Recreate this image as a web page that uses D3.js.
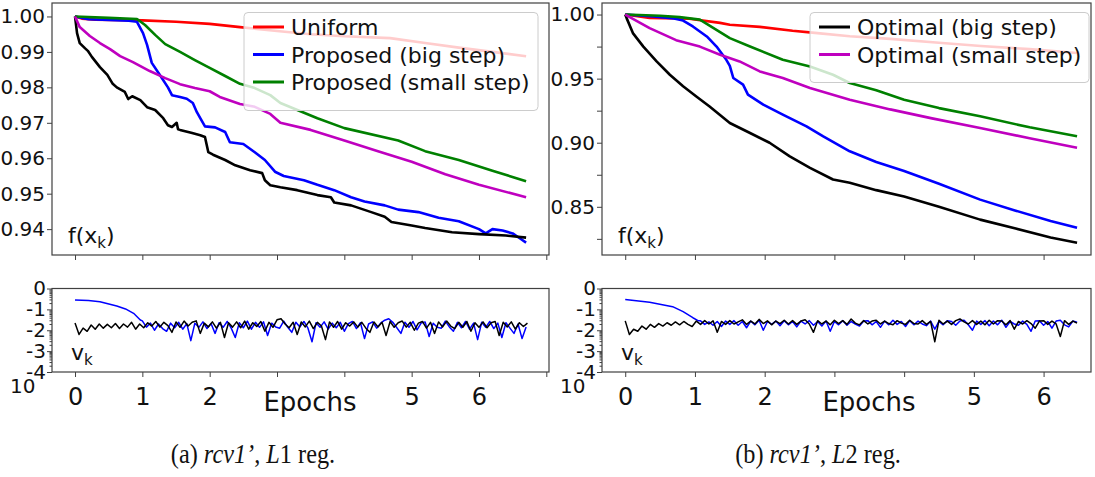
<!DOCTYPE html>
<html>
<head>
<meta charset="utf-8">
<script src="https://cdn.jsdelivr.net/npm/d3@7"></script>
<style>
  body { margin: 0; background: #fff; }
  svg { display: block; }
  text { font-family: "DejaVu Sans", sans-serif; fill: #111; }
</style>
</head>
<body>
<svg id="chart" width="1095" height="477"></svg>
<script>
// ---- f(x_k) curves, [epoch, value] ----
const uniformL1 = [[0,1.0],[0.1,0.9994],[0.3,0.9991],[1,0.9989],[1.5,0.9985],[2,0.9979],[2.45,0.9970],[3,0.9959],[3.5,0.9950],[4,0.9944],[4.68,0.9939],[5.2,0.9925],[5.7,0.9912],[6.2,0.9900],[6.7,0.9888]];
const bigStepL1 = [[0,1.0],[0.2,0.9992],[0.5,0.9990],[0.8,0.9988],[0.92,0.9985],[1.01,0.9953],[1.07,0.992],[1.14,0.9869],[1.26,0.9835],[1.38,0.980],[1.44,0.9778],[1.56,0.9773],[1.66,0.9768],[1.75,0.9756],[1.81,0.973],[1.86,0.9713],[1.93,0.969],[2.08,0.9687],[2.23,0.9674],[2.30,0.9645],[2.5,0.964],[2.67,0.9617],[2.82,0.9595],[2.97,0.9562],[3.1,0.9550],[3.4,0.9538],[3.6,0.9525],[3.85,0.951],[4.1,0.9490],[4.3,0.9478],[4.6,0.9467],[4.8,0.9455],[5.1,0.9448],[5.4,0.9432],[5.7,0.9422],[6.0,0.9400],[6.1,0.9388],[6.2,0.9400],[6.35,0.9396],[6.5,0.9388],[6.6,0.9375],[6.7,0.9362]];
const smallStepL1 = [[0,1.0],[0.5,0.9996],[0.92,0.9993],[1.04,0.9976],[1.19,0.9948],[1.34,0.9922],[1.56,0.99],[1.78,0.9877],[2.0,0.9855],[2.23,0.9832],[2.45,0.981],[2.67,0.9798],[2.9,0.9778],[3.05,0.9756],[3.6,0.9713],[4.0,0.9685],[4.8,0.9650],[5.2,0.9620],[5.7,0.9595],[6.2,0.9565],[6.7,0.9535]];
const optBigL1 = [[0,1.0],[0.03,0.9953],[0.07,0.9925],[0.15,0.991],[0.19,0.9903],[0.25,0.9886],[0.37,0.9857],[0.48,0.9835],[0.56,0.981],[0.62,0.980],[0.74,0.9787],[0.79,0.9767],[0.85,0.9775],[0.97,0.9764],[1.07,0.9744],[1.19,0.9736],[1.31,0.9713],[1.38,0.9693],[1.44,0.9688],[1.51,0.9700],[1.53,0.9682],[1.56,0.968],[1.74,0.9671],[1.86,0.9665],[1.93,0.966],[1.98,0.9617],[2.05,0.961],[2.23,0.9595],[2.38,0.958],[2.6,0.9566],[2.78,0.9558],[2.82,0.9538],[2.9,0.9524],[3.05,0.9518],[3.3,0.951],[3.6,0.9496],[3.8,0.9490],[3.85,0.9475],[4.1,0.9467],[4.4,0.9448],[4.6,0.9435],[4.7,0.9420],[5.0,0.9410],[5.2,0.9403],[5.6,0.9391],[6.0,0.9386],[6.4,0.9382],[6.7,0.9376]];
const optSmallL1 = [[0,1.0],[0.07,0.997],[0.22,0.9945],[0.37,0.9925],[0.52,0.9908],[0.67,0.9888],[0.86,0.9871],[1.11,0.9846],[1.34,0.9826],[1.56,0.9809],[1.78,0.9798],[2.0,0.9789],[2.15,0.9773],[2.45,0.9753],[2.67,0.9745],[2.9,0.9725],[3.05,0.970],[3.5,0.9680],[4.0,0.9650],[4.5,0.9620],[5.0,0.9590],[5.5,0.9555],[6.0,0.9525],[6.7,0.9490]];

const uniformL2 = [[0,1.0],[0.35,0.9974],[0.92,0.9967],[1.36,0.9935],[1.5,0.992],[1.93,0.9904],[2.4,0.9873],[2.72,0.9857],[3.22,0.983],[3.8,0.981],[4.5,0.978],[5.1,0.9755],[5.8,0.973],[6.48,0.970]];
const bigStepL2 = [[0,1.0],[0.4,0.9985],[0.7,0.997],[0.83,0.9953],[0.97,0.9907],[1.17,0.9829],[1.31,0.975],[1.45,0.9647],[1.5,0.9600],[1.55,0.9505],[1.69,0.9453],[1.76,0.9375],[1.98,0.9297],[2.26,0.9219],[2.6,0.9128],[2.84,0.905],[3.22,0.8933],[3.6,0.8850],[4.0,0.8780],[4.5,0.8680],[5.09,0.8556],[5.6,0.8470],[6.1,0.8390],[6.48,0.8336]];
const smallStepL2 = [[0,1.0],[0.5,0.999],[0.78,0.998],[1.07,0.996],[1.5,0.9816],[1.79,0.9751],[2.26,0.9647],[2.65,0.9595],[2.98,0.953],[3.22,0.9466],[3.6,0.941],[4.0,0.9336],[4.5,0.927],[5.09,0.9206],[5.8,0.912],[6.48,0.905]];
const optBigL2 = [[0,1.0],[0.02,0.9972],[0.11,0.9855],[0.26,0.975],[0.45,0.9634],[0.64,0.953],[0.83,0.944],[1.02,0.9361],[1.21,0.9283],[1.5,0.9154],[1.79,0.9076],[2.07,0.90],[2.36,0.8894],[2.65,0.8804],[2.98,0.8713],[3.22,0.8687],[3.6,0.8630],[4.0,0.8580],[4.5,0.8500],[5.09,0.840],[5.6,0.8330],[6.1,0.8260],[6.48,0.822]];
const optSmallL2 = [[0,1.0],[0.35,0.9894],[0.73,0.980],[1.07,0.975],[1.36,0.9686],[1.64,0.9634],[1.93,0.9556],[2.26,0.9505],[2.65,0.9427],[3.22,0.9336],[3.8,0.926],[4.4,0.919],[5.09,0.9115],[5.8,0.9035],[6.48,0.896]];

// ---- v_k, log10 values ----
// smooth start of the big-step curves, [epoch, log10 v]
const vBigStartL1 = [[0,-0.55],[0.2,-0.58],[0.37,-0.63],[0.62,-0.84],[0.75,-0.98],[0.87,-1.19],[0.97,-1.51]];
const vBigStartL2 = [[0,-0.53],[0.35,-0.66],[0.68,-0.87],[0.83,-1.11],[0.97,-1.40],[1.05,-1.55]];
// sampled every 0.06 epoch
const vStep = 0.06;
const vBigNoiseStartL1 = 1.0;
const vBigNoiseL1 = [
  -1.55,-1.85,-1.66,-2.00,-1.70,-1.92,-2.05,-1.66,-1.88,-1.62,
  -1.95,-1.68,-2.50,-1.66,-1.86,-1.60,-1.92,-1.68,-2.15,-1.64,
  -1.86,-1.58,-1.90,-2.35,-1.64,-1.88,-1.56,-1.95,-1.62,-1.86,
  -1.60,-2.25,-1.66,-1.84,-1.90,-1.56,-1.86,-2.10,-1.62,-1.84,
  -1.58,-1.90,-2.55,-1.64,-1.86,-1.60,-1.95,-1.66,-1.88,-1.62,
  -2.05,-1.68,-1.58,-1.92,-1.64,-2.40,-1.70,-1.60,-1.90,-1.66,
  -1.52,-1.45,-1.62,-1.88,-2.15,-1.62,-1.86,-1.58,-1.98,-1.66,
  -1.60,-2.30,-1.66,-1.86,-1.90,-1.56,-1.84,-2.05,-1.62,-1.88,
  -1.58,-1.95,-1.66,-2.45,-1.62,-1.86,-1.58,-1.92,-1.66,-2.35,
  -1.64,-1.90,-2.15,-1.70,-2.40,-1.85];
const vOptL1 = [
  -1.65,-2.20,-1.90,-2.05,-1.75,-1.95,-1.70,-1.90,-1.72,-1.88,
  -1.68,-1.92,-1.70,-1.85,-1.62,-1.95,-1.70,-1.88,-1.64,-1.80,
  -1.58,-1.85,-1.62,-1.78,-2.10,-1.60,-1.86,-1.56,-1.80,-1.62,
  -1.55,-2.15,-1.66,-1.84,-1.60,-1.90,-1.62,-2.35,-1.64,-1.85,
  -1.60,-1.88,-1.56,-1.95,-1.64,-1.82,-1.58,-2.05,-1.62,-1.86,
  -1.50,-1.45,-1.70,-1.88,-1.62,-2.20,-1.60,-1.84,-1.56,-1.92,
  -1.62,-1.80,-2.45,-1.60,-1.86,-1.58,-1.95,-1.64,-1.80,-1.60,
  -1.85,-1.62,-1.90,-2.10,-1.60,-1.84,-1.62,-2.25,-1.58,-1.86,
  -1.64,-1.56,-1.85,-1.62,-2.00,-1.66,-1.58,-1.90,-1.62,-2.15,
  -1.60,-1.84,-1.56,-1.80,-1.92,-1.62,-1.86,-1.58,-2.05,-1.64,
  -1.86,-1.60,-1.88,-1.64,-1.58,-2.25,-1.62,-1.84,-1.60,-1.95,
  -1.64,-1.82,-1.66];
const vBigNoiseStartL2 = 1.08;
const vBigNoiseL2 = [
  -1.55,-1.72,-1.60,-1.76,-1.58,-1.82,-1.56,-1.72,-1.54,-1.76,
  -1.58,-1.88,-1.56,-1.74,-1.52,-2.00,-1.58,-1.72,-1.56,-1.78,
  -1.54,-1.74,-1.58,-1.84,-1.56,-1.70,-1.54,-1.76,-1.58,-1.80,
  -1.56,-2.05,-1.58,-1.74,-1.54,-1.76,-1.58,-1.70,-1.80,-1.56,
  -1.54,-1.74,-1.58,-1.86,-1.56,-1.74,-1.52,-1.72,-1.58,-1.82,
  -1.54,-1.74,-1.56,-1.70,-1.78,-1.56,-1.95,-1.58,-1.74,-1.54,
  -1.58,-1.76,-1.56,-1.52,-1.74,-2.00,-1.56,-1.72,-1.54,-1.78,
  -1.56,-1.74,-1.52,-1.86,-1.58,-1.70,-1.76,-1.56,-1.72,-2.05,
  -1.56,-1.54,-1.76,-1.58,-1.90,-1.56,-1.52,-1.74,-1.84,-1.56,
  -1.62];
const vOptL2 = [
  -1.55,-2.20,-1.95,-2.05,-1.80,-1.95,-1.72,-1.86,-1.68,-1.80,
  -1.64,-1.76,-1.60,-1.74,-1.58,-1.72,-1.82,-1.56,-1.72,-1.54,
  -1.70,-1.55,-2.10,-1.58,-1.72,-1.54,-1.70,-1.60,-1.50,-1.72,
  -1.56,-1.70,-1.48,-1.68,-1.55,-1.74,-1.56,-1.68,-1.52,-1.70,
  -1.54,-1.72,-1.56,-1.50,-1.70,-2.10,-1.54,-1.70,-1.56,-1.74,
  -1.52,-1.68,-1.54,-1.72,-1.46,-1.66,-1.74,-1.54,-1.70,-1.56,
  -1.52,-1.70,-1.56,-1.68,-1.74,-1.54,-1.66,-1.72,-1.52,-1.68,
  -1.70,-1.54,-1.72,-1.58,-2.55,-1.52,-1.70,-1.56,-1.72,-1.54,
  -1.46,-1.60,-1.70,-1.54,-1.72,-1.56,-1.74,-1.52,-1.70,-1.54,
  -1.56,-1.74,-1.54,-1.95,-1.58,-1.70,-1.54,-1.68,-1.90,-1.56,
  -1.54,-1.72,-1.56,-1.70,-2.30,-1.54,-1.72,-1.56,-1.66];

// ---- ticks and labels ----
const xTicksL1 = [0,1,2,3,4,5,6,7];
const xTicksL2 = [0,1,2,3,4,5,6];
const xLabelled = [0,1,2,5,6];
const fTicksL1 = [0.94,0.95,0.96,0.97,0.98,0.99,1.00];
const fTicksL2 = [0.825,0.85,0.875,0.90,0.925,0.95,0.975,1.00];
const vTicks = [1,1e-1,1e-2,1e-3,1e-4];
const legendL1 = ["Uniform","Proposed (big step)","Proposed (small step)"];
const legendL2 = ["Optimal (big step)","Optimal (small step)"];

const svg = d3.select('#chart');
const RED = '#ff0000', BLUE = '#0000ff', GREEN = '#008000', MAG = '#bf00bf', BLACK = '#000000';
const FRAME = '#404040';

function noisy(start, vals) {
  return vals.map((v, i) => [start + i * vStep, v]);
}

function drawPanel(o) {
  const g = svg.append('g');
  const top = 3, bot = 255, vTop = 288.5, vBot = 372;
  const x = d3.scaleLinear().domain(o.xDomain).range([o.left, o.right]);
  const y = d3.scaleLinear().domain(o.fDomain).range([bot, top]);
  const yv = d3.scaleLog().domain([1e-4, 1]).range([vBot, vTop]);

  const defs = svg.append('defs');
  defs.append('clipPath').attr('id', o.id + 'top').append('rect')
    .attr('x', o.left).attr('y', top).attr('width', o.right - o.left).attr('height', bot - top);
  defs.append('clipPath').attr('id', o.id + 'bot').append('rect')
    .attr('x', o.left).attr('y', vTop).attr('width', o.right - o.left).attr('height', vBot - vTop);

  // f(x_k) lines
  const line = d3.line().x(d => x(d[0])).y(d => y(d[1]));
  const lg = g.append('g').attr('clip-path', `url(#${o.id}top)`);
  o.series.forEach(s => {
    lg.append('path').attr('d', line(s.data)).attr('fill', 'none')
      .attr('stroke', s.color).attr('stroke-width', 2.6).attr('stroke-linejoin', 'round');
  });

  // v_k lines
  const vline = d3.line().x(d => x(d[0])).y(d => yv(Math.pow(10, d[1])));
  const vg = g.append('g').attr('clip-path', `url(#${o.id}bot)`);
  vg.append('path').attr('d', vline(o.vBig)).attr('fill', 'none')
    .attr('stroke', BLUE).attr('stroke-width', 1.5).attr('stroke-linejoin', 'round');
  vg.append('path').attr('d', vline(o.vOpt)).attr('fill', 'none')
    .attr('stroke', BLACK).attr('stroke-width', 1.5).attr('stroke-linejoin', 'round');

  // axes
  const ax = g.append('g').attr('transform', `translate(0,${bot})`)
    .call(d3.axisBottom(x).tickValues(o.xTicks).tickSize(5).tickFormat(''));
  const ay = g.append('g').attr('transform', `translate(${o.left},0)`)
    .call(d3.axisLeft(y).tickValues(o.fTicks).tickSize(5).tickPadding(2)
      .tickFormat(d => o.fLabelled(d) ? d3.format('.2f')(d) : ''));
  const axb = g.append('g').attr('transform', `translate(0,${vBot})`)
    .call(d3.axisBottom(x).tickValues(o.xTicks).tickSize(5).tickPadding(11)
      .tickFormat(d => xLabelled.includes(d) ? d : ''));
  const minor = [];
  [-4, -3, -2, -1].forEach(k => { for (let m = 2; m <= 9; m++) minor.push(m * Math.pow(10, k)); });
  const ayvMinor = g.append('g').attr('transform', `translate(${o.left},0)`)
    .call(d3.axisLeft(yv).tickValues(minor).tickSize(2.5).tickFormat(''));
  const ayv = g.append('g').attr('transform', `translate(${o.left},0)`)
    .call(d3.axisLeft(yv).tickValues(vTicks).tickSize(5).tickPadding(1)
      .tickFormat(d => String(Math.round(Math.log10(d)))));
  [ax, ay, axb, ayv, ayvMinor].forEach(a => {
    a.select('.domain').remove();
    a.selectAll('.tick line').attr('stroke', FRAME).attr('stroke-width', 1);
    a.selectAll('text').attr('fill', '#111').style('font-family', '"DejaVu Sans", sans-serif');
  });
  ay.selectAll('text').style('font-size', '20px');
  ayv.selectAll('text').style('font-size', '20px');
  axb.selectAll('text').style('font-size', '24px');

  // frames
  g.append('rect').attr('x', o.left).attr('y', top).attr('width', o.right - o.left).attr('height', bot - top)
    .attr('fill', 'none').attr('stroke', FRAME).attr('stroke-width', 1.2);
  g.append('rect').attr('x', o.left).attr('y', vTop).attr('width', o.right - o.left).attr('height', vBot - vTop)
    .attr('fill', 'none').attr('stroke', FRAME).attr('stroke-width', 1.2);

  // in-axes labels
  const fl = g.append('text').attr('x', o.left + 16).attr('y', 243).style('font-size', '22px');
  fl.append('tspan').text('f(x');
  fl.append('tspan').attr('dy', 5).style('font-size', '15px').text('k');
  fl.append('tspan').attr('dy', -5).text(')');
  const vl = g.append('text').attr('x', o.left + 19).attr('y', 360).style('font-size', '22px');
  vl.append('tspan').text('v');
  vl.append('tspan').attr('dy', 5).style('font-size', '15px').text('k');
  g.append('text').attr('x', o.left - 42).attr('y', 393).style('font-size', '20px').text('10');
  g.append('text').attr('x', o.epochsX).attr('y', 411).attr('text-anchor', 'middle')
    .style('font-size', '26px').text('Epochs');

  // legend
  const leg = g.append('g');
  leg.append('rect').attr('x', o.legX).attr('y', 12.5).attr('width', o.legW)
    .attr('height', 14 + o.legend.length * 28).attr('rx', 4)
    .attr('fill', 'rgba(255,255,255,0.8)').attr('stroke', '#cccccc').attr('stroke-width', 1);
  o.legend.forEach((t, i) => {
    const yy = 27 + i * 27.5;
    leg.append('line').attr('x1', o.legX + 9).attr('x2', o.legX + 40).attr('y1', yy).attr('y2', yy)
      .attr('stroke', o.legColors[i]).attr('stroke-width', 3);
    leg.append('text').attr('x', o.legX + 47).attr('y', yy + 8).style('font-size', '22px').text(t);
  });

  // caption (slightly condensed, like the LaTeX subcaption)
  const cap = svg.append('text').attr('x', 0).attr('y', 0).attr('text-anchor', 'middle')
    .attr('transform', `translate(${o.capX},463) scale(0.9,1)`)
    .style('font-family', '"Liberation Serif", serif').style('font-size', '27px');
  cap.append('tspan').text(o.capTag + ' ');
  cap.append('tspan').style('font-style', 'italic').text('rcv1\u2019');
  cap.append('tspan').text(', ');
  cap.append('tspan').style('font-style', 'italic').text('L');
  cap.append('tspan').text(o.capReg + ' reg.');
}

drawPanel({
  id: 'l1', left: 52, right: 549, xDomain: [-0.342, 7.04], fDomain: [0.9327, 1.0038],
  xTicks: xTicksL1, fTicks: fTicksL1, fLabelled: () => true,
  series: [
    { data: uniformL1, color: RED }, { data: bigStepL1, color: BLUE }, { data: smallStepL1, color: GREEN },
    { data: optBigL1, color: BLACK }, { data: optSmallL1, color: MAG }
  ],
  vBig: vBigStartL1.concat(noisy(vBigNoiseStartL1, vBigNoiseL1)),
  vOpt: noisy(0, vOptL1),
  legend: legendL1, legColors: [RED, BLUE, GREEN], legX: 244, legW: 294,
  epochsX: 310, capX: 253, capTag: '(a)', capReg: '1'
});
drawPanel({
  id: 'l2', left: 602, right: 1091, xDomain: [-0.333, 6.68], fDomain: [0.8124, 1.009],
  xTicks: xTicksL2, fTicks: fTicksL2, fLabelled: d => Math.round(d * 1000) % 50 === 0,
  series: [
    { data: uniformL2, color: RED }, { data: bigStepL2, color: BLUE }, { data: smallStepL2, color: GREEN },
    { data: optBigL2, color: BLACK }, { data: optSmallL2, color: MAG }
  ],
  vBig: vBigStartL2.concat(noisy(vBigNoiseStartL2, vBigNoiseL2)),
  vOpt: noisy(0, vOptL2),
  legend: legendL2, legColors: [BLACK, MAG], legX: 810, legW: 279,
  epochsX: 869, capX: 818, capTag: '(b)', capReg: '2'
});
</script>
</body>
</html>
